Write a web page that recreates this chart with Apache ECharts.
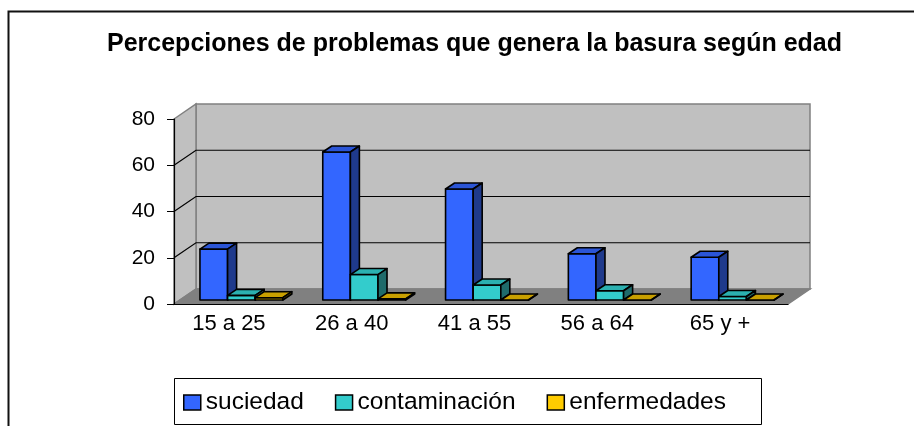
<!DOCTYPE html>
<html>
<head>
<meta charset="utf-8">
<script src="https://cdn.jsdelivr.net/npm/echarts@6/dist/echarts.min.js"></script>
<style>
  html, body { margin: 0; padding: 0; background: #fff; }
  #main { width: 914px; height: 426px; }
</style>
</head>
<body>
<div id="main"></div>
<script>
const categories = ['15 a 25', '26 a 40', '41 a 55', '56 a 64', '65 y +'];
const suciedad = [22, 64, 48, 20, 18.5];
const contaminacion = [2, 11, 6.5, 4, 1.5];
const enfermedades = [1, 0.5, 0, 0, 0];
const seriesNames = ['suciedad', 'contaminación', 'enfermedades'];
const yTicks = [0, 20, 40, 60, 80];

const FONT = "'Liberation Sans', Arial, sans-serif";
// depth of the walls and of the bar row (oblique projection)
const WALL = [22, -15];
const ROW = [6, -4];
const DEPTH = [9, -6];

const faces = [
  { front: '#3366FF', top: '#2B55D6', side: '#1F3A8C' },
  { front: '#33CCCC', top: '#2BB0B0', side: '#1F6B6B' },
  { front: '#FFCC00', top: '#C9A000', side: '#7F6600' }
];

const chart = echarts.init(document.getElementById('main'));

function renderWalls(params, api) {
  const cs = params.coordSys;
  const L = cs.x, R = cs.x + cs.width, T = cs.y, B = cs.y + cs.height;
  const wx = WALL[0], wy = WALL[1];
  const gray = '#808080';
  const children = [
    { type: 'polygon', shape: { points: [[L + wx, T + wy], [R + wx, T + wy], [R + wx, B + wy], [L + wx, B + wy]] },
      style: { fill: '#C0C0C0', stroke: gray, lineWidth: 1.5 } },
    { type: 'polygon', shape: { points: [[L, T], [L + wx, T + wy], [L + wx, B + wy], [L, B]] },
      style: { fill: '#C0C0C0', stroke: gray, lineWidth: 1.5 } },
    { type: 'polygon', shape: { points: [[L, B], [R, B], [R + wx, B + wy], [L + wx, B + wy]] },
      style: { fill: '#808080', stroke: gray, lineWidth: 1.5 } }
  ];
  yTicks.slice(1, -1).forEach(t => {
    const y = api.coord([0, t])[1];
    children.push({ type: 'polyline', shape: { points: [[L, y], [L + wx, y + wy], [R + wx, y + wy]] },
      style: { stroke: '#000', lineWidth: 1.2, fill: null } });
  });
  return { type: 'group', children: children };
}

function renderBar(k, params, api) {
  const i = api.value(0), v = api.value(1);
  const base = api.coord([i, 0]);
  const top = api.coord([i, v]);
  const W = api.size([1, 0])[0];
  const bw = W * 0.225;
  const x0 = base[0] - 1.5 * bw + k * bw + ROW[0];
  const x1 = x0 + bw;
  const y0 = base[1] + ROW[1];
  const y1 = top[1] + ROW[1];
  const dx = DEPTH[0], dy = DEPTH[1];
  const c = faces[k];
  const line = { stroke: '#000', lineWidth: 1.6, lineJoin: 'round' };
  return {
    type: 'group',
    children: [
      { type: 'polygon', shape: { points: [[x0, y0], [x0, y1], [x1, y1], [x1, y0]] },
        style: Object.assign({ fill: c.front }, line) },
      { type: 'polygon', shape: { points: [[x0, y1], [x0 + dx, y1 + dy], [x1 + dx, y1 + dy], [x1, y1]] },
        style: Object.assign({ fill: c.top }, line) },
      { type: 'polygon', shape: { points: [[x1, y1], [x1 + dx, y1 + dy], [x1 + dx, y0 + dy], [x1, y0]] },
        style: Object.assign({ fill: c.side }, line) }
    ]
  };
}

const values = [suciedad, contaminacion, enfermedades];
const barSeries = seriesNames.map((name, k) => ({
  name: name,
  type: 'custom',
  renderItem: (params, api) => renderBar(k, params, api),
  itemStyle: { color: faces[k].front, borderColor: '#000', borderWidth: 1.5 },
  data: values[k].map((v, i) => [i, v]),
  z: 3
}));

const option = {
  animation: false,
  textStyle: { fontFamily: FONT },
  title: {
    text: 'Percepciones de problemas que genera la basura según edad',
    left: 102,
    top: 27,
    textStyle: { fontSize: 25, fontWeight: 'bold', color: '#000', fontFamily: FONT }
  },
  legend: {
    data: seriesNames,
    left: 178,
    top: 385,
    icon: 'rect',
    itemWidth: 17,
    itemHeight: 15,
    itemGap: 31,
    selectedMode: false,
    itemStyle: { borderColor: '#000', borderWidth: 1.5 },
    textStyle: { fontSize: 24.5, color: '#000', fontFamily: FONT }
  },
  grid: { left: 174, right: 126, top: 119, bottom: 122, containLabel: false },
  xAxis: {
    type: 'category',
    data: categories,
    boundaryGap: true,
    z: 5,
    axisLine: { lineStyle: { color: '#000', width: 1.2 } },
    axisTick: { length: 7, lineStyle: { color: '#000' } },
    axisLabel: { fontSize: 22, color: '#000', margin: 9, padding: [0, 13, 0, 0], fontFamily: FONT }
  },
  yAxis: {
    type: 'value',
    min: 0,
    max: 80,
    interval: 20,
    z: 5,
    axisLine: { show: true, lineStyle: { color: '#000', width: 1.2 } },
    axisTick: { show: true, length: 7, lineStyle: { color: '#000' } },
    splitLine: { show: false },
    axisLabel: { fontSize: 21, color: '#000', margin: 19, fontFamily: FONT }
  },
  graphic: [
    { type: 'rect', shape: { x: 8.5, y: 11.5, width: 1000, height: 1000 },
      style: { fill: null, stroke: '#111', lineWidth: 2 }, silent: true },
    { type: 'rect', shape: { x: 174.5, y: 378.5, width: 587, height: 46 },
      style: { fill: null, stroke: '#000', lineWidth: 1 }, silent: true }
  ],
  series: [
    {
      type: 'custom',
      renderItem: renderWalls,
      data: [[0, 0]],
      silent: true,
      z: 1
    }
  ].concat(barSeries)
};

chart.setOption(option);
</script>
</body>
</html>
